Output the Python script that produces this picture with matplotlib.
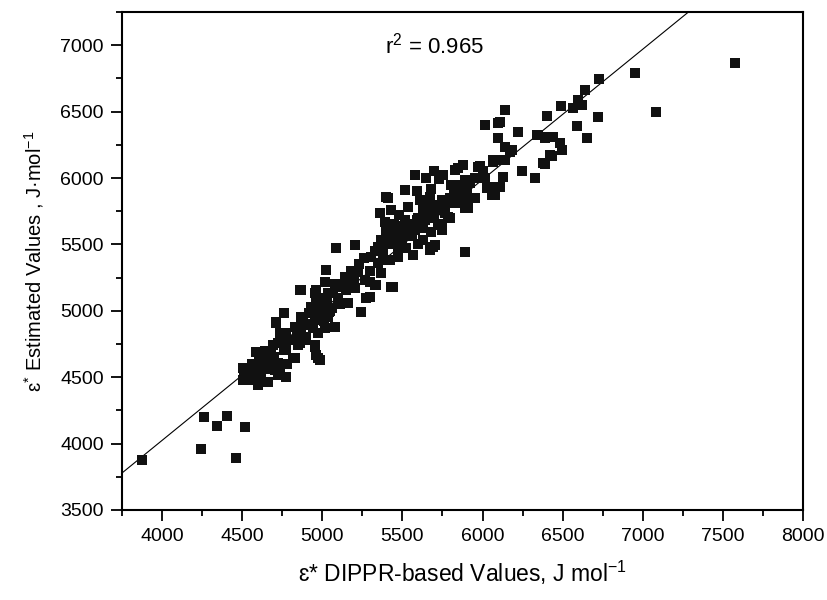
import numpy as np
import matplotlib.pyplot as plt

plt.rcParams['font.family'] = ['Liberation Sans', 'DejaVu Sans']
plt.rcParams['mathtext.fontset'] = 'custom'
plt.rcParams['mathtext.rm'] = 'Liberation Sans'
plt.rcParams['mathtext.it'] = 'Liberation Sans'

# (DIPPR-based, estimated) pairs
dippr = [
    3875, 4262, 4341, 4406, 4246, 4516, 4460,
    4504, 4504, 4514, 4556, 4598, 4598, 4660, 4566, 4587, 4608, 4650, 4660, 4681, 4691,
    4702, 4723, 4723, 4733, 4775, 4764, 4775, 4723, 4712, 4712, 4733, 4764, 4775, 4816,
    4827, 4827, 4858, 4858, 4868, 4868, 4868, 4868, 4858, 4900, 4910, 4920, 4931, 4952,
    4952, 4962, 4973, 4983, 4952, 4952, 4962, 4972, 4983, 5014, 5014, 5014, 5025, 5035,
    5035, 5066, 5077, 5087, 5139, 5150, 5160, 5202, 5202, 5223,
    5244, 5264, 5275, 5296, 5306, 5327, 5337, 5348, 5369, 5369, 5369, 5389, 5389, 5358,
    5400, 5410, 5431, 5431, 5441, 5452, 5473, 5473, 5494, 5514, 5514, 5535, 5566, 5577,
    5577, 5608, 5629, 5629, 5639, 5671, 5671, 5681, 5691, 5702, 5723, 5744, 5744, 5754,
    5764, 5764, 5785, 5806, 5827, 5827, 5848, 5848, 5879, 5879, 5889, 5889, 5890, 5900,
    5910, 5931, 5952, 5973, 5983, 6014, 6014, 6025, 6047, 6056, 6066, 6066, 6077, 6098,
    6098, 6108, 6108, 6129, 6129, 6139, 6140, 6140, 6171, 6181, 6222, 6244, 6327, 6337,
    6348, 6379, 6389, 6389, 6400, 6410, 6419, 6431, 6441, 6483, 6487, 6494, 6566, 6587,
    6598, 6619, 6639, 6650, 6719, 6727, 6952, 7083, 7577,
    4950, 4990, 5030, 5060, 5100, 5120, 5080, 4920, 4880, 4960, 5000, 5040, 4800, 4840,
    4760, 4680, 4620, 4560, 4780, 4640, 5180, 5230, 5260, 5300, 5330, 5420, 5460, 5500,
    5540, 5600, 5650, 5700, 5720, 5660, 5560, 5520, 5600, 5450, 5400, 5480, 5590, 5650,
    5700, 5800, 5850, 5950, 6000, 5750, 5800, 5680, 5730,
    4980, 5010, 5050, 4940, 4900, 5110, 4850, 4700, 4620, 4580, 5350, 5380, 5430, 5470,
    5510, 5550, 5590, 5630, 5690, 5760, 5820, 5870, 5920, 5700, 5620, 5540, 5420, 5300,
    5200, 5150,
]
estimated = [
    3880, 4198, 4135, 4205, 3962, 4127, 3894,
    4567, 4479, 4504, 4479, 4441, 4454, 4466, 4529, 4692, 4630, 4605, 4630, 4692, 4742,
    4554, 4605, 4517, 4579, 4504, 4705, 4705, 4755, 4918, 4906, 4831, 4981, 4831, 4642,
    4642, 4880, 4880, 4755, 4818, 4855, 4956, 5157, 5157, 4805, 4893, 4981, 5031, 4730,
    4742, 4667, 4642, 4630, 4931, 5132, 5157, 4831, 5081, 4868, 5031, 5219, 5307, 4956,
    5132, 5132, 4880, 5470, 5257, 5157, 5056, 5495, 5169, 5295,
    4993, 5232, 5094, 5106, 5407, 5194, 5194, 5357, 5282, 5495, 5533, 5382, 5671, 5734,
    5859, 5847, 5181, 5759, 5181, 5533, 5407, 5445, 5596, 5684, 5910, 5784, 5420, 5608,
    6023, 5834, 5759, 5533, 5684, 5859, 5458, 5596, 5483, 5495, 5646, 5608, 5834, 6023,
    5797, 5734, 5709, 5947, 5809, 6060, 5834, 6073, 5834, 6098, 5772, 5985, 5445, 5910,
    5772, 5847, 5847, 6085, 6090, 5998, 6399, 5922, 5935, 5872, 6123, 6136, 5872, 6299,
    6412, 6424, 5935, 6010, 6136, 6236, 6512, 6136, 6198, 6211, 6349, 6055, 6002, 6324,
    6324, 6111, 6103, 6299, 6468, 6311, 6173, 6166, 6311, 6261, 6542, 6211, 6525, 6392,
    6587, 6550, 6663, 6299, 6462, 6743, 6788, 6499, 6868,
    4980, 5000, 5060, 5020, 5100, 5180, 5200, 4900, 4950, 5060, 5100, 4990, 4780, 4800,
    4760, 4560, 4520, 4600, 4600, 4700, 5300, 5350, 5400, 5300, 5450, 5500, 5600, 5520,
    5650, 5700, 5750, 5700, 5800, 5800, 5560, 5470, 5500, 5650, 5600, 5720, 5900, 6000,
    6050, 5850, 5950, 6000, 6050, 5650, 5700, 5920, 5990,
    4950, 4920, 5000, 4870, 4780, 5050, 4740, 4650, 4560, 4500, 5480, 5430, 5560, 5520,
    5640, 5580, 5680, 5620, 5760, 5770, 5900, 5880, 5960, 5760, 5660, 5600, 5380, 5220,
    5230, 5220,
]

# fitted line
line_slope = 0.982
line_intercept = 96
r2_text = 'r$^{2}$ = 0.965'

fig = plt.figure(figsize=(8.27, 6.0), dpi=100)
ax = fig.add_axes([0.1475, 0.15, 0.8235, 0.83])

lx = np.array([3750, 8000])
ax.plot(lx, line_slope * lx + line_intercept, color='black', lw=0.8, zorder=1)
ax.plot(dippr, estimated, 's', color='#111111', markersize=7.7, markeredgewidth=0, zorder=2)

ax.set_xlim(3750, 8000)
ax.set_ylim(3500, 7250)
ax.set_xticks(np.arange(4000, 8001, 500))
ax.set_xticks(np.arange(3750, 8001, 250), minor=True)
ax.set_yticks(np.arange(3500, 7001, 500))
ax.set_yticks(np.arange(3500, 7251, 250), minor=True)
ax.tick_params(which='major', length=8, width=1.3, labelsize=14, direction='out', pad=5)
ax.tick_params(which='minor', length=4.5, width=1.3, direction='out')
for s in ax.spines.values():
    s.set_linewidth(1.5)

ax.text(5390, 7000, r2_text, fontsize=16, va='center', ha='left')
ax.set_xlabel('ɛ* DIPPR-based Values, J mol$^{-1}$', fontsize=16.5, labelpad=10)
ax.set_ylabel('ɛ$^{*}$ Estimated Values , J·mol$^{-1}$', fontsize=14.5, labelpad=10)

plt.savefig('out.png', dpi=100)
